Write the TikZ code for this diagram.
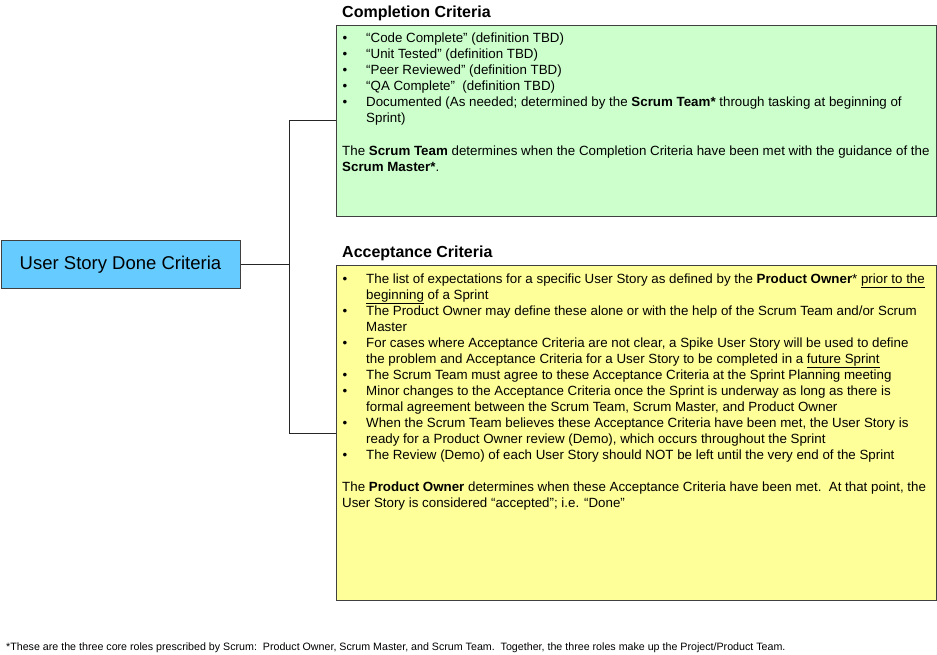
\documentclass[tikz,border=0pt]{standalone}
\usepackage{fontspec}
\setmainfont{Liberation Sans}
\definecolor{bluefill}{HTML}{66CCFF}
\definecolor{greenfill}{HTML}{CCFFCC}
\definecolor{yellowfill}{HTML}{FFFF99}
\definecolor{edge}{HTML}{404040}
\begin{document}
\begin{tikzpicture}[x=1pt,y=-1pt,
  box/.style={draw=edge,line width=1pt,inner sep=0pt,anchor=north west},
  body/.style={inner sep=0pt,anchor=base west,font=\fontsize{13.33}{16}\selectfont},
  bul/.style={inner sep=0pt,anchor=base,font=\fontsize{13.33}{16}\selectfont},
  ttl/.style={inner sep=0pt,anchor=base west,font=\fontsize{16}{19}\selectfont\bfseries},
  conn/.style={draw=black!85,line width=1pt}]
\useasboundingbox (0,0) rectangle (937,655);

% main node
\node[draw=edge,line width=1pt,fill=bluefill,minimum width=239pt,minimum height=47pt,inner sep=0pt,
  font=\fontsize{18.5}{22}\selectfont] (root) at (120.5,264.5) {User Story Done Criteria};

% boxes
\node[box,fill=greenfill,minimum width=600pt,minimum height=191pt] (green) at (336,25) {};
\node[box,fill=yellowfill,minimum width=600pt,minimum height=335pt] (yellow) at (336,265) {};

% connectors
\coordinate (jn) at (289.5,264.5);
\draw[conn] (root.east) -- (jn);
\draw[conn] (green.west) -| (jn) |- (yellow.west);

% titles
\node[ttl] (t1) at (342,18) {Completion Criteria};
\node[ttl] (t2) at (342,257.5) {Acceptance Criteria};

% completion criteria
\node[bul] (gb1) at (345,43) {•};
\node[bul] (gb2) at (345,59) {•};
\node[bul] (gb3) at (345,75) {•};
\node[bul] (gb4) at (345,91) {•};
\node[bul] (gb5) at (345,107) {•};
\node[body] (g1) at (366,43) {“Code Complete” (definition TBD)};
\node[body] (g2) at (366,59) {“Unit Tested” (definition TBD)};
\node[body] (g3) at (366,75) {“Peer Reviewed” (definition TBD)};
\node[body] (g4) at (366,91) {“QA Complete”\ \ (definition TBD)};
\node[body] (g5) at (366,107) {Documented (As needed; determined by the \textbf{Scrum Team*} through tasking at beginning of};
\node[body] (g6) at (366,123) {Sprint)};
\node[body] (g7) at (342,156) {The \textbf{Scrum Team} determines when the Completion Criteria have been met with the guidance of the};
\node[body] (g8) at (342,172) {\textbf{Scrum Master*}.};

% acceptance criteria
\node[bul] (yb1) at (345,283) {•};
\node[bul] (yb2) at (345,315) {•};
\node[bul] (yb3) at (345,347) {•};
\node[bul] (yb4) at (345,379) {•};
\node[bul] (yb5) at (345,395) {•};
\node[bul] (yb6) at (345,427) {•};
\node[bul] (yb7) at (345,459) {•};
\node[body] (y1) at (366,283) {The list of expectations for a specific User Story as defined by the \textbf{Product Owner}* \underline{prior to the}};
\node[body] (y2) at (366,299) {\underline{beginning} of a Sprint};
\node[body] (y3) at (366,315) {The Product Owner may define these alone or with the help of the Scrum Team and/or Scrum};
\node[body] (y4) at (366,331) {Master};
\node[body] (y5) at (366,347) {For cases where Acceptance Criteria are not clear, a Spike User Story will be used to define};
\node[body] (y6) at (366,363) {the problem and Acceptance Criteria for a User Story to be completed in a \underline{future Sprint}};
\node[body] (y7) at (366,379) {The Scrum Team must agree to these Acceptance Criteria at the Sprint Planning meeting};
\node[body] (y8) at (366,395) {Minor changes to the Acceptance Criteria once the Sprint is underway as long as there is};
\node[body] (y9) at (366,411) {formal agreement between the Scrum Team, Scrum Master, and Product Owner};
\node[body] (y10) at (366,427) {When the Scrum Team believes these Acceptance Criteria have been met, the User Story is};
\node[body] (y11) at (366,443) {ready for a Product Owner review (Demo), which occurs throughout the Sprint};
\node[body] (y12) at (366,459) {The Review (Demo) of each User Story should NOT be left until the very end of the Sprint};
\node[body] (y13) at (342,491) {The \textbf{Product Owner} determines when these Acceptance Criteria have been met.\ \ At that point, the};
\node[body] (y14) at (342,507) {User Story is considered “accepted”; i.e. “Done”};

% footnote
\node[inner sep=0pt,anchor=base west,font=\fontsize{10.67}{13}\selectfont] (foot) at (6,650)
  {*These are the three core roles prescribed by Scrum:\ \ Product Owner, Scrum Master, and Scrum Team.\ \ Together, the three roles make up the Project/Product Team.};
\end{tikzpicture}
\end{document}
